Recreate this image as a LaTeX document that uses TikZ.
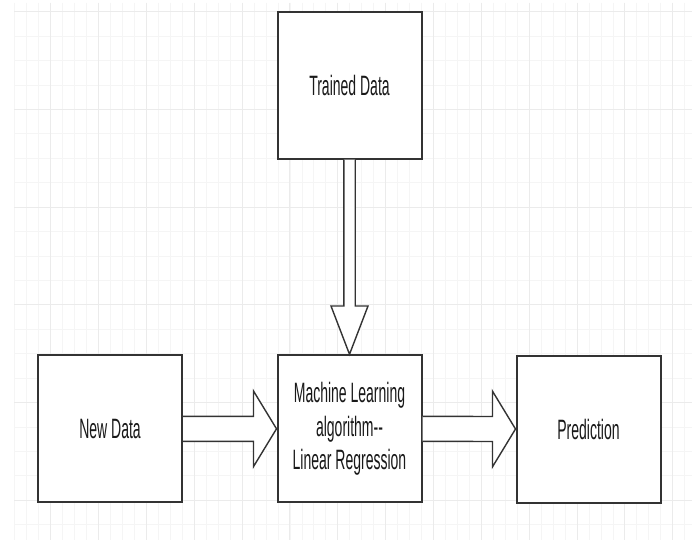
\documentclass[tikz,border=0pt]{standalone}
\usepackage{fontspec}
\setmainfont{Liberation Sans}
\usetikzlibrary{calc}
\newcommand{\sq}[1]{\scalebox{0.5}[1]{#1}}
\begin{document}
\begin{tikzpicture}[x=1pt,y=-1pt,
 box/.style={draw=black!80,line width=2pt,fill=white,minimum width=144pt,minimum height=147pt,inner sep=0pt,align=center,font=\fontsize{28}{33.6}\selectfont,text=black!90},
 blockarrow/.style={draw=black!80,line width=1.4pt,fill=white,line join=miter},
 minorgrid/.style={draw=black!4,line width=0.8pt},
 majorgrid/.style={draw=black!8,line width=1pt}]
\useasboundingbox (0,0) rectangle (692,540);
\fill[white] (0,0) rectangle (692,540);
\begin{scope}
\clip (14,3) rectangle (692,540);
\foreach \i in {0,...,57} \draw[minorgrid] ({14.8+11.9625*\i},3) -- ({14.8+11.9625*\i},540);
\foreach \j in {0,...,22} \draw[minorgrid] (14,{11.7+24.425*\j}) -- (692,{11.7+24.425*\j});
\foreach \i in {0,...,13} \draw[majorgrid] ({50.7+47.85*\i},3) -- ({50.7+47.85*\i},540);
\foreach \j in {0,...,5} \draw[majorgrid] (14,{11.7+97.7*\j}) -- (692,{11.7+97.7*\j});
\end{scope}
\node[box] (trained) at (349.5,85.2) {\sq{Trained Data}};
\node[box] (ml) at (349.5,428.8) {\sq{Machine Learning}\\\sq{algorithm{-}{-}}\\\sq{Linear Regression}};
\node[box] (new) at (110,428.8) {\sq{New Data}};
\node[box] (pred) at (588.5,429) {\sq{Prediction}};
\draw[blockarrow] ($(new.east)+(0,-12.5)$) -- ($(ml.west)+(-23,-12.5)$) -- ($(ml.west)+(-23,-37.8)$) -- (ml.west) -- ($(ml.west)+(-23,37.8)$) -- ($(ml.west)+(-23,12.5)$) -- ($(new.east)+(0,12.5)$);
\draw[blockarrow] ($(ml.east)+(0,-12.5)$) -- ($(pred.west)+(-23,-12.5)$) -- ($(pred.west)+(-23,-37.8)$) -- (pred.west) -- ($(pred.west)+(-23,37.8)$) -- ($(pred.west)+(-23,12.5)$) -- ($(ml.east)+(0,12.5)$);
\draw[blockarrow] ($(trained.south)+(-5.7,0)$) -- ($(ml.north)+(-5.7,-48.3)$) -- ($(ml.north)+(-18.5,-48.3)$) -- (ml.north) -- ($(ml.north)+(18.5,-48.3)$) -- ($(ml.north)+(5.7,-48.3)$) -- ($(trained.south)+(5.7,0)$);
\end{tikzpicture}
\end{document}
